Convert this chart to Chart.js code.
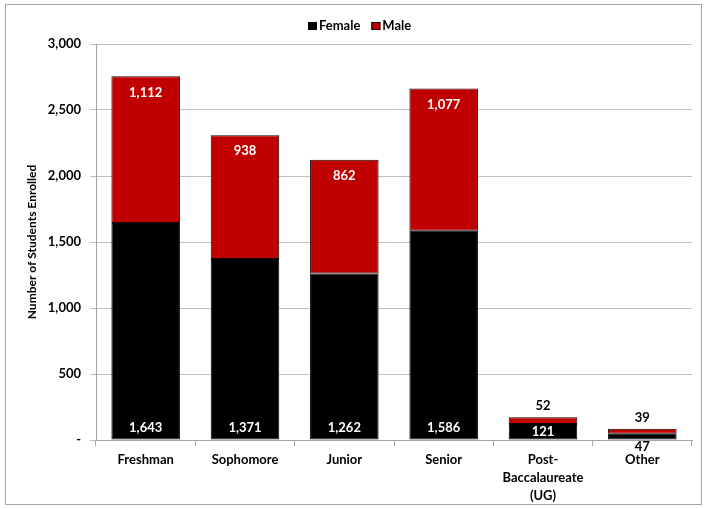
<!DOCTYPE html>
<html>
<head>
<meta charset="utf-8">
<style>
  html, body { margin: 0; padding: 0; background: #fff; }
  #wrap { width: 704px; height: 508px; position: relative; }
</style>
<script src="https://cdn.jsdelivr.net/npm/chart.js@4/dist/chart.umd.min.js"></script>
</head>
<body>
<div id="wrap"><canvas id="enrollChart" width="704" height="508"></canvas></div>
<script>
// Enrollment by class level and gender
const levels = ["Freshman", "Sophomore", "Junior", "Senior", ["Post-", "Baccalaureate", "(UG)"], "Other"];
const female = [1643, 1371, 1262, 1586, 121, 47];
const male = [1112, 938, 862, 1077, 52, 39];
const yTicks = [0, 500, 1000, 1500, 2000, 2500, 3000];

const FONT = "Lato";

// outer frame + legend drawn by hand so the plot area lands where it should
const framePlugin = {
	id: "frame",
	beforeDraw(chart) {
		const ctx = chart.ctx;
		ctx.save();
		ctx.fillStyle = "#fff";
		ctx.fillRect(0, 0, chart.width, chart.height);
		ctx.strokeStyle = "#a6a6a6";
		ctx.lineWidth = 1;
		ctx.strokeRect(5.5, 4.5, 696, 500);
		ctx.restore();
	},
	afterDraw(chart) {
		const ctx = chart.ctx;
		ctx.save();
		ctx.font = "bold 13px " + FONT;
		ctx.textBaseline = "middle";
		let x = 308, y = 26;
		chart.data.datasets.forEach(ds => {
			ctx.fillStyle = ds.backgroundColor;
			ctx.fillRect(x, y - 4, 9, 8);
			ctx.strokeStyle = "#000";
			ctx.strokeRect(x + 0.5, y - 3.5, 8, 7);
			ctx.fillStyle = "#000";
			ctx.fillText(ds.label, x + 11, y);
			x += 11 + ctx.measureText(ds.label).width + 11;
		});
		ctx.restore();
	}
};

// value labels on the bars
const labelPlugin = {
	id: "barLabels",
	afterDatasetsDraw(chart) {
		const ctx = chart.ctx;
		ctx.save();
		ctx.font = "bold 13px " + FONT;
		ctx.textAlign = "center";
		ctx.textBaseline = "middle";
		const fmt = v => v.toLocaleString("en-US");
		chart.getDatasetMeta(0).data.forEach((bar, i) => {
			const h = bar.base - bar.y;
			if (h < 10) {
				ctx.fillStyle = "#000";
				ctx.fillText(fmt(female[i]), bar.x, bar.base + 7);
			} else {
				ctx.fillStyle = "#fff";
				ctx.fillText(fmt(female[i]), bar.x, Math.max(bar.base - 12, bar.y + 8));
			}
		});
		chart.getDatasetMeta(1).data.forEach((bar, i) => {
			const h = bar.base - bar.y;
			if (h < 20) {
				ctx.fillStyle = "#000";
				ctx.fillText(fmt(male[i]), bar.x, bar.y - 11);
			} else {
				ctx.fillStyle = "#fff";
				ctx.fillText(fmt(male[i]), bar.x, bar.y + 16);
			}
		});
		ctx.restore();
	}
};

const enrollChart = new Chart(document.getElementById("enrollChart"), {
	type: "bar",
	data: {
		labels: levels,
		datasets: [
			{ label: "Female", data: female, backgroundColor: "#000000", borderColor: "#000000", borderWidth: 1 },
			{ label: "Male", data: male, backgroundColor: "#c00000", borderColor: "#1a0000", borderWidth: 1 }
		]
	},
	options: {
		responsive: false,
		animation: false,
		layout: { padding: { top: 44, right: 12, bottom: 3, left: 6 } },
		datasets: { bar: { categoryPercentage: 1, barPercentage: 0.69, borderSkipped: false } },
		plugins: {
			legend: { display: false },
			tooltip: { enabled: false }
		},
		scales: {
			x: {
				stacked: true,
				grid: { display: true, drawOnChartArea: false, color: "#a6a6a6", tickLength: 6, offset: true },
				border: { color: "#a6a6a6" },
				ticks: { color: "#000", font: { family: FONT, weight: "bold", size: 13, lineHeight: "18px" }, maxRotation: 0, autoSkip: false, padding: 5 },
				afterFit: s => { s.height = 65; }
			},
			y: {
				stacked: true,
				min: 0,
				max: 3000,
				afterBuildTicks: s => { s.ticks = yTicks.map(v => ({ value: v })); },
				grid: { color: "#bfbfbf", tickLength: 6 },
				border: { color: "#a6a6a6" },
				ticks: {
					color: "#000",
					font: { family: FONT, weight: "bold", size: 13 },
					padding: 9,
					callback: v => v === 0 ? "-" : v.toLocaleString("en-US")
				},
				title: {
					display: true,
					text: "Number of Students Enrolled",
					color: "#000",
					font: { family: FONT, weight: "bold", size: 12 },
					padding: { top: 19, bottom: 0 }
				},
				afterFit: s => { s.width = 90; }
			}
		}
	},
	plugins: [framePlugin, labelPlugin]
});
</script>
</body>
</html>
